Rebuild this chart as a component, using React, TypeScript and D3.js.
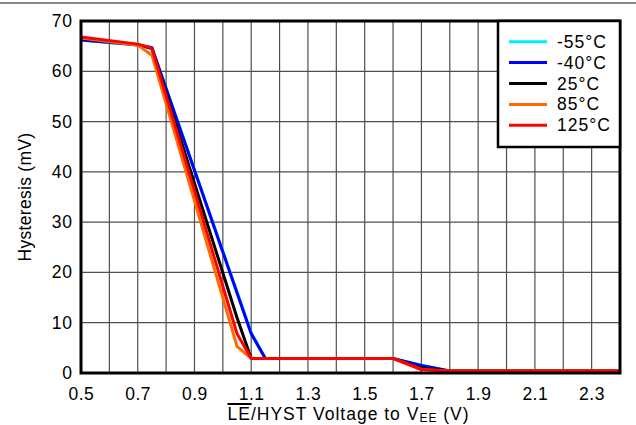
import React from "react";
import * as d3 from "d3";

const seriesNames = ["-55°C", "-40°C", "25°C", "85°C", "125°C"];
const seriesColors = ["#00f0f0", "#0000ff", "#000000", "#ff6a00", "#ff0000"];

const xCold = [0.5, 0.7, 0.75, 1.1, 1.15, 1.6, 1.7, 1.8, 2.4];
const yMinus55 = [66.2, 65.2, 64.7, 8.0, 2.9, 2.9, 1.5, 0.4, 0.4];
const yMinus40 = [66.2, 65.3, 64.7, 7.8, 2.9, 2.9, 1.5, 0.4, 0.4];
const xWarm = [0.5, 0.7, 0.75, 1.05, 1.1, 1.6, 1.7, 1.8, 2.4];
const y25 = [66.5, 65.3, 64.5, 11.0, 2.9, 2.9, 1.0, 0.4, 0.4];
const y85 = [66.6, 65.2, 63.2, 5.3, 2.9, 2.9, 0.7, 0.4, 0.4];
const y125 = [66.8, 65.4, 64.6, 7.8, 2.9, 2.9, 0.7, 0.4, 0.4];

const seriesX = [xCold, xCold, xWarm, xWarm, xWarm];
const seriesY = [yMinus55, yMinus40, y25, y85, y125];

const xTickLabels = [0.5, 0.7, 0.9, 1.1, 1.3, 1.5, 1.7, 1.9, 2.1, 2.3];
const yTickLabels = [0, 10, 20, 30, 40, 50, 60, 70];

const W = 636;
const H = 425;
const L = 81, R = 620, T = 21, B = 373;
const FONT = "'Liberation Sans', Arial, sans-serif";

export default function App() {
  const x = d3.scaleLinear().domain([0.5, 2.4]).range([L, R]);
  const y = d3.scaleLinear().domain([0, 70]).range([B, T]);
  const xGrid = d3.range(0, 20).map((i) => 0.5 + i * 0.1);
  const yGrid = d3.range(0, 8).map((i) => i * 10);

  const line = d3
    .line<[number, number]>()
    .x((d) => x(d[0]))
    .y((d) => y(d[1]));

  return (
    <svg
      width={W}
      height={H}
      style={{ position: "absolute", left: 0, top: 0, background: "#fff" }}
      fontFamily={FONT}
    >
      <line x1={0} x2={W} y1={3} y2={3} stroke="#8a8a8a" strokeWidth={2} />
      {xGrid.map((v, i) => (
        <line key={"gx" + i} x1={x(v)} x2={x(v)} y1={T} y2={B} stroke="#505050" strokeWidth={1.2} />
      ))}
      {yGrid.map((v, i) => (
        <line key={"gy" + i} x1={L} x2={R} y1={y(v)} y2={y(v)} stroke="#505050" strokeWidth={1.2} />
      ))}
      {seriesY.map((ys, s) => (
        <path
          key={"s" + s}
          d={line(ys.map((v, i) => [seriesX[s][i], v]) as [number, number][]) || ""}
          fill="none"
          stroke={seriesColors[s]}
          strokeWidth={3}
          strokeLinejoin="round"
        />
      ))}
      <rect x={L} y={T} width={R - L} height={B - T} fill="none" stroke="#000" strokeWidth={3} />
      {/* legend */}
      <rect x={498} y={21} width={122} height={126} fill="#fff" stroke="#000" strokeWidth={2.5} />
      {seriesNames.map((n, i) => (
        <g key={"lg" + i}>
          <line x1={509} x2={547} y1={41.7 + i * 20.9} y2={41.7 + i * 20.9} stroke={seriesColors[i]} strokeWidth={3} />
          <text x={557} y={41.7 + i * 20.9 + 6} fontSize={17.5} letterSpacing={1} fill="#000">
            {n}
          </text>
        </g>
      ))}
      {yTickLabels.map((v, i) => (
        <text key={"yt" + i} x={72.8} y={y(v) + 6} fontSize={17.5} letterSpacing={0.8} textAnchor="end" fill="#000">
          {v}
        </text>
      ))}
      {xTickLabels.map((v, i) => (
        <text key={"xt" + i} x={x(v) + 0.4} y={400} fontSize={17.5} letterSpacing={0.5} textAnchor="middle" fill="#000">
          {v.toFixed(1)}
        </text>
      ))}
      <text
        transform={`translate(31,${(T + B) / 2}) rotate(-90)`}
        fontSize={17.5}
        letterSpacing={0.3}
        textAnchor="middle"
        fill="#000"
      >
        Hysteresis (mV)
      </text>
      <line x1={227.5} x2={251.5} y1={404} y2={404} stroke="#000" strokeWidth={2} />
      <text x={227.5} y={419.5} fontSize={17.5} letterSpacing={1} fill="#000">
        <tspan>LE/HYST Voltage to V</tspan>
        <tspan fontSize={12} dy={2}>EE</tspan>
        <tspan dy={-2}> (V)</tspan>
      </text>
    </svg>
  );
}
